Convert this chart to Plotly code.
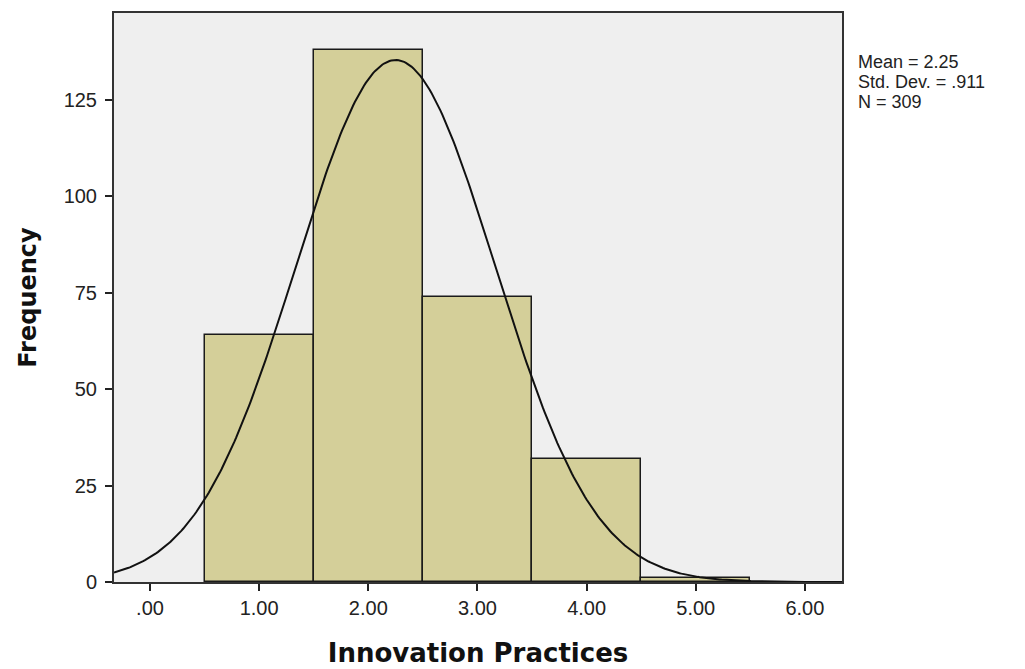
import numpy as np
import plotly.graph_objects as go

# Histogram of Innovation Practices (bin width 1.0)
bin_centers = [1, 2, 3, 4, 5]
frequencies = [64, 138, 74, 32, 1]

mean_val = 2.25
std_dev = 0.911
n_obs = 309

x_tick_vals = [0, 1, 2, 3, 4, 5, 6]
x_tick_text = [".00", "1.00", "2.00", "3.00", "4.00", "5.00", "6.00"]
y_tick_vals = [0, 25, 50, 75, 100, 125]

stats_lines = [f"Mean = {mean_val:.2f}", "Std. Dev. = .911", f"N = {n_obs}"]

x_range = [-0.33, 6.34]
y_range = [0, 147.5]

# Normal curve scaled to counts
xs = np.linspace(x_range[0], x_range[1], 400)
ys = n_obs * 1.0 / (std_dev * np.sqrt(2 * np.pi)) * np.exp(-0.5 * ((xs - mean_val) / std_dev) ** 2)

fig = go.Figure()
fig.add_trace(go.Bar(
    x=bin_centers, y=frequencies, width=1.0,
    marker=dict(color="#d4cf99", line=dict(color="#1a1a1a", width=1.5)),
    showlegend=False, hoverinfo="x+y",
))
fig.add_trace(go.Scatter(
    x=xs, y=ys, mode="lines",
    line=dict(color="#111111", width=2),
    showlegend=False, hoverinfo="skip",
))

axis_font = dict(family="Liberation Sans, Arial, sans-serif", size=20, color="#222222")

fig.update_xaxes(
    range=x_range, tickvals=x_tick_vals, ticktext=x_tick_text,
    ticks="outside", ticklen=7, tickwidth=2, tickcolor="#222222",
    showline=True, linecolor="#333333", linewidth=2, mirror=True,
    showgrid=False, zeroline=False, tickfont=axis_font, automargin=False,
    title=dict(text="<b>Innovation Practices</b>",
               font=dict(family="DejaVu Sans, Verdana, sans-serif", size=26, color="#111111"),
               standoff=26),
)
fig.update_yaxes(
    range=y_range, tickvals=y_tick_vals,
    ticks="outside", ticklen=7, tickwidth=2, tickcolor="#222222",
    showline=True, linecolor="#333333", linewidth=2, mirror=True,
    showgrid=False, zeroline=False, tickfont=axis_font, ticklabelstandoff=4,
    automargin=False,
    title=dict(text="<b>Frequency</b>",
               font=dict(family="DejaVu Sans, Verdana, sans-serif", size=24, color="#111111"),
               standoff=20),
)

# Summary statistics beside the plot area
plot_top, plot_h = 13, 569
for i, line in enumerate(stats_lines):
    y_px = 62 + i * 20
    fig.add_annotation(
        xref="paper", yref="paper", x=1.02, y=1 - (y_px - plot_top) / plot_h,
        xanchor="left", yanchor="middle", text=line, showarrow=False, align="left",
        borderpad=0,
        font=dict(family="Liberation Sans, Arial, sans-serif", size=18, color="#222222"),
    )

fig.update_layout(
    width=1025, height=669,
    margin=dict(l=114, r=183, t=13, b=87),
    plot_bgcolor="#efefef", paper_bgcolor="#ffffff",
    bargap=0,
)

fig.write_html("out.html")
